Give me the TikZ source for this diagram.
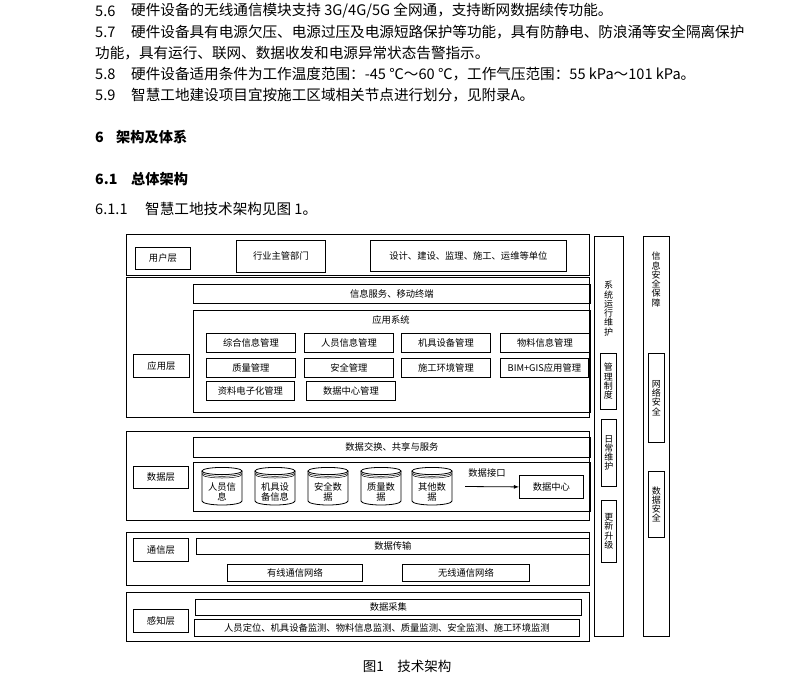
\documentclass[tikz,border=0pt]{standalone}
\usepackage{fontspec}
\setmainfont{Noto Sans CJK SC}
\newcommand\bodyfont{\fontsize{14.6}{16}\selectfont}
\newcommand\headfont{\fontsize{14.2}{16}\selectfont\bfseries}
\newcommand\diagfont{\fontsize{9.3}{10.7}\selectfont}
\newcommand\vertfont{\fontsize{9}{9.3}\selectfont}
\tikzset{
  layer/.style={draw, line width=1pt, anchor=north west, inner sep=0pt},
  box/.style={draw, line width=0.8pt, anchor=north west, inner sep=0pt, font=\diagfont},
  vbox/.style={box, align=center, font=\vertfont},
  vtxt/.style={anchor=north, align=center, inner sep=0pt, font=\vertfont},
  txt/.style={anchor=west, inner sep=0pt, font=\bodyfont},
  head/.style={anchor=west, inner sep=0pt, font=\headfont},
}

\begin{document}
\begin{tikzpicture}[x=1pt,y=-1pt]
\useasboundingbox (0,0) rectangle (797,681);

% text above the figure
\node[txt] (n56) at (95,11) {5.6};
\node[txt] (t56) at (131,11) {硬件设备的无线通信模块支持 3G/4G/5G 全网通，支持断网数据续传功能。};
\node[txt] (n57) at (95,32) {5.7};
\node[txt] (t57) at (131,32) {硬件设备具有电源欠压、电源过压及电源短路保护等功能，具有防静电、防浪涌等安全隔离保护};
\node[txt] (t57b) at (95,53) {功能，具有运行、联网、数据收发和电源异常状态告警指示。};
\node[txt] (n58) at (95,74) {5.8};
\node[txt] (t58) at (131,74) {硬件设备适用条件为工作温度范围：-45 ℃～60 ℃，工作气压范围：55 kPa～101 kPa。};
\node[txt] (n59) at (95,95) {5.9};
\node[txt] (t59) at (131,95) {智慧工地建设项目宜按施工区域相关节点进行划分，见附录A。};
\node[head] (n6) at (95,137) {6};
\node[head] (t6) at (116,137) {架构及体系};
\node[head] (n61) at (95,179) {6.1};
\node[head] (t61) at (131,179) {总体架构};
\node[txt] (n611) at (95,209) {6.1.1};
\node[txt] (t611) at (145,209) {智慧工地技术架构见图 1。};

% layers
\node[layer, minimum width=463pt, minimum height=41pt] (userlayer) at (126,234) {};
\node[layer, minimum width=463pt, minimum height=140pt] (applayer) at (126,277) {};
\node[layer, minimum width=463pt, minimum height=89pt] (datalayer) at (126,431) {};
\node[layer, minimum width=463pt, minimum height=53pt] (commlayer) at (126,532) {};
\node[layer, minimum width=463pt, minimum height=49pt] (senselayer) at (126,592) {};

% layer names
\node[box, minimum width=55pt, minimum height=22pt] (userlab) at (135,247) {用户层};
\node[box, minimum width=56pt, minimum height=23pt] (applab) at (133,354) {应用层};
\node[box, minimum width=55pt, minimum height=22pt] (datalab) at (133,466) {数据层};
\node[box, minimum width=55pt, minimum height=23pt] (commlab) at (133,538) {通信层};
\node[box, minimum width=55pt, minimum height=23pt] (senselab) at (133,609) {感知层};

% user layer
\node[box, minimum width=89pt, minimum height=32pt] (dept) at (236,240) {行业主管部门};
\node[box, minimum width=196pt, minimum height=31pt] (units) at (370,240) {设计、建设、监理、施工、运维等单位};

% application layer
\node[box, minimum width=397pt, minimum height=19pt] (infoserv) at (193,284) {信息服务、移动终端};
\node[box, minimum width=397pt, minimum height=102pt] (appsys) at (193,310) {};
\node[font=\diagfont, inner sep=0pt] (appsyslab) at (391,320) {应用系统};
\node[box, minimum width=89pt, minimum height=19pt] (zhxx) at (206,333) {综合信息管理};
\node[box, minimum width=89pt, minimum height=19pt] (ryxx) at (304,333) {人员信息管理};
\node[box, minimum width=89pt, minimum height=19pt] (jjsb) at (401,333) {机具设备管理};
\node[box, minimum width=89pt, minimum height=19pt] (wlxx) at (500,333) {物料信息管理};
\node[box, minimum width=89pt, minimum height=19pt] (zlgl) at (206,358) {质量管理};
\node[box, minimum width=89pt, minimum height=19pt] (aqgl) at (304,358) {安全管理};
\node[box, minimum width=89pt, minimum height=19pt] (sghj) at (401,358) {施工环境管理};
\node[box, minimum width=88pt, minimum height=19pt] (bimgis) at (500,358) {BIM+GIS应用管理};
\node[box, minimum width=88pt, minimum height=19pt] (zldz) at (206,381) {资料电子化管理};
\node[box, minimum width=89pt, minimum height=19pt] (sjzx) at (306,381) {数据中心管理};

% data layer
\node[box, minimum width=397pt, minimum height=20pt] (exchange) at (193,437) {数据交换、共享与服务};
\node[box, minimum width=397pt, minimum height=49pt] (dbframe) at (193,462) {};
\foreach \cx/\lab [count=\i] in {222/{人员信\\息},275/{机具设\\备信息},328/{安全数\\据},381/{质量数\\据},432/{其他数\\据}} {
  \draw[line width=0.8pt] (\cx-20,471) -- (\cx-20,501) arc[start angle=180,end angle=0,x radius=20,y radius=4] -- (\cx+20,471);
  \draw[line width=0.8pt] (\cx,471) circle[x radius=20,y radius=3.6];
  \draw[line width=0.5pt] (\cx-20,472.7) arc[start angle=180,end angle=0,x radius=20,y radius=3.6];
  \draw[line width=0.5pt] (\cx-20,474.4) arc[start angle=180,end angle=0,x radius=20,y radius=3.6];
  \node[align=center, font=\diagfont, inner sep=0pt] (db\i) at (\cx,492) {\lab};
}
\node[box, minimum width=64pt, minimum height=23pt] (dcenter) at (519,475) {数据中心};
\coordinate (ifstart) at (465,486.5);
\draw[-latex, line width=0.8pt] (ifstart) -- (dcenter.west);
\node[font=\diagfont, inner sep=0pt] (iflab) at (487,473) {数据接口};

% communication layer
\node[box, minimum width=393pt, minimum height=16pt] (transfer) at (196,538) {数据传输};
\node[box, minimum width=135pt, minimum height=17pt] (wired) at (227,564) {有线通信网络};
\node[box, minimum width=127pt, minimum height=17pt] (wireless) at (402,564) {无线通信网络};

% sensing layer
\node[box, minimum width=386pt, minimum height=16pt] (collect) at (195,599) {数据采集};
\node[box, minimum width=385pt, minimum height=17pt] (monitor) at (194,619) {人员定位、机具设备监测、物料信息监测、质量监测、安全监测、施工环境监测};

% right columns
\node[layer, minimum width=29pt, minimum height=400pt] (sysmaint) at (594,236) {};
\node[vtxt] (sysmainttxt) at (608.5,281) {系\\统\\运\\行\\维\\护};
\node[vbox, minimum width=16pt, minimum height=56pt] (rule) at (600,353) {管\\理\\制\\度};
\node[vbox, minimum width=15pt, minimum height=67pt] (daily) at (601,419) {日\\常\\维\\护};
\node[vbox, minimum width=15pt, minimum height=62pt] (update) at (601,500) {更\\新\\升\\级};
\node[layer, minimum width=26pt, minimum height=400pt] (security) at (643,236) {};
\node[vtxt] (securitytxt) at (656,252) {信\\息\\安\\全\\保\\障};
\node[vbox, minimum width=16pt, minimum height=89pt] (netsec) at (648,353) {网\\络\\安\\全};
\node[vbox, minimum width=16pt, minimum height=66pt] (datasec) at (648,471) {数\\据\\安\\全};

% caption
\node[font=\fontsize{13.5}{15}\selectfont, inner sep=0pt] (caption) at (407,666) {图1\quad 技术架构};
\end{tikzpicture}
\end{document}
